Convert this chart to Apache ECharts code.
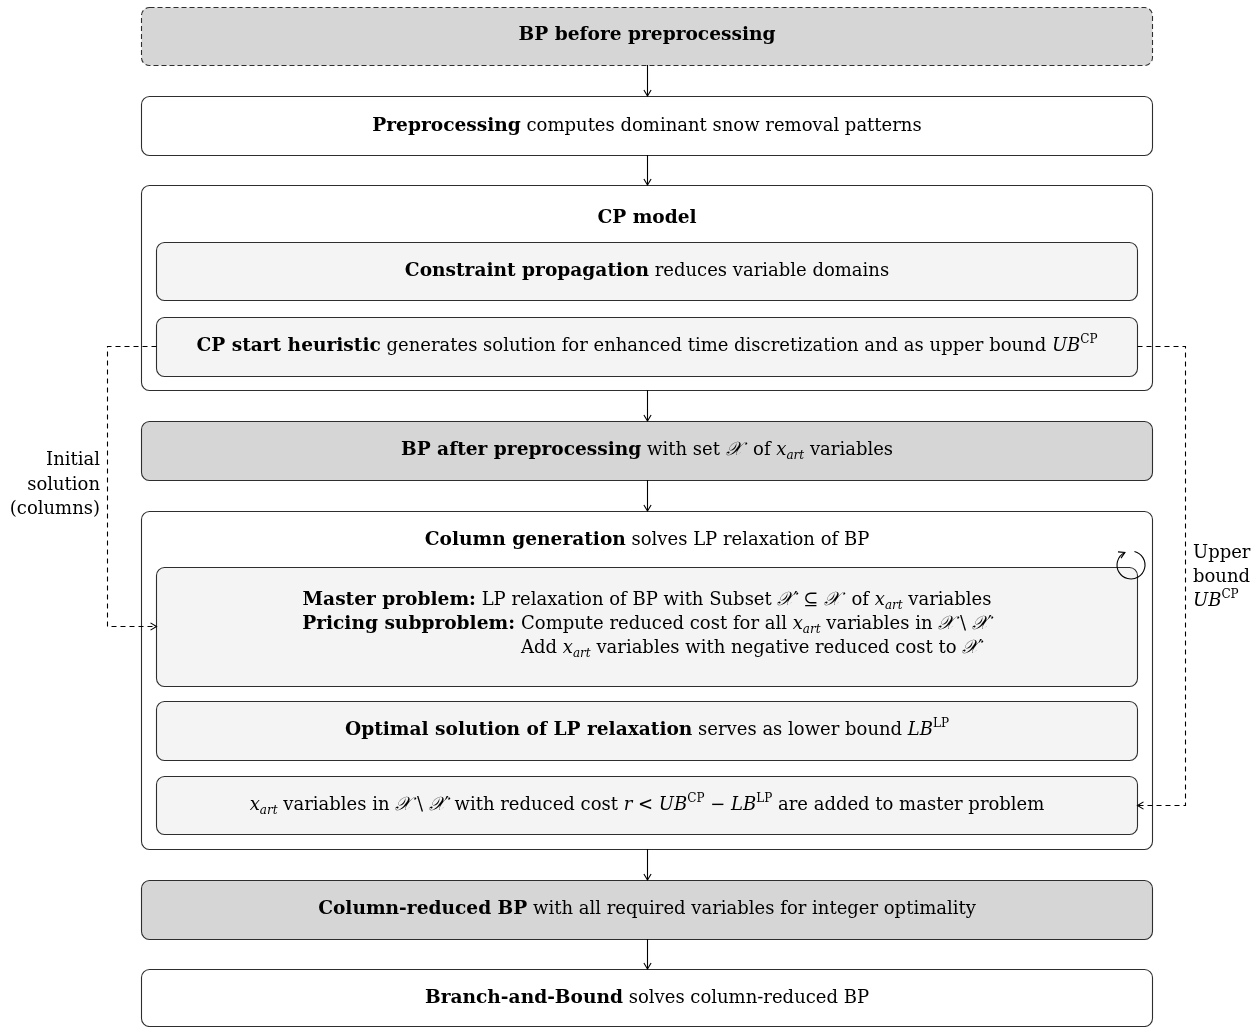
<!DOCTYPE html>
<html><head><meta charset="utf-8">
<script src="https://cdn.jsdelivr.net/npm/echarts@6/dist/echarts.min.js"></script>
<style>html,body{margin:0;padding:0;background:#fff}#c{width:1260px;height:1027px}</style>
</head><body><div id="c"></div>
<script>
const FONT = "'DejaVu Serif', 'Liberation Serif', serif";
const FS = 18;

// ---- diagram nodes (boxes) ----
const nodeNames = ['bpBefore','preproc','cpModel','constrProp','cpStart','bpAfter','colGen','master','optimal','addCols','colReduced','bnb'];
const nodeKind  = ['dashedGray','white','white','light','light','gray','white','light','light','light','gray','white'];
const nodeBox   = [[141,7,1152,65],[141,96,1152,155],[141,185,1152,390],[156,242,1137,300],[156,317,1137,376],
                   [141,421,1152,480],[141,511,1152,849],[156,567,1137,686],[156,701,1137,760],[156,776,1137,834],
                   [141,880,1152,939],[141,969,1152,1026]];

// ---- solid flow arrows: [x, yFrom, yTo] ----
const flowArrows = [[647,65,96],[647,155,185],[647,390,421],[647,480,511],[647,849,880],[647,939,969]];

// ---- dashed feedback connectors ----
const connectors = [
  [[156,346],[107,346],[107,626],[156,626]],
  [[1137,346],[1185,346],[1185,805],[1137,805]]
];

// ---- text segments ----
const B=t=>['b',t], R=t=>['r',t], I=t=>['i',t], SUP=t=>['sup',t], SUB=t=>['sub',t];
const CAL=()=>['cal','𝒳'];
const labels = [
  [B('BP before preprocessing')],
  [B('Preprocessing'),R(' computes dominant snow removal patterns')],
  [B('CP model')],
  [B('Constraint propagation'),R(' reduces variable domains')],
  [B('CP start heuristic'),R(' generates solution for enhanced time discretization and as upper bound '),I('UB'),SUP('CP')],
  [B('BP after preprocessing'),R(' with set '),CAL(),R('  of '),I('x'),SUB('art'),R(' variables')],
  [B('Column generation'),R(' solves LP relaxation of BP')],
  [B('Master problem:'),R(' LP relaxation of BP with Subset '),CAL(),R('′ ⊆ '),CAL(),R('  of '),I('x'),SUB('art'),R(' variables')],
  [B('Pricing subproblem:')],
  [R('Compute reduced cost for all '),I('x'),SUB('art'),R(' variables in '),CAL(),R(' \\ '),CAL(),R('′')],
  [R('Add '),I('x'),SUB('art'),R(' variables with negative reduced cost to '),CAL(),R('′')],
  [B('Optimal solution of LP relaxation'),R(' serves as lower bound '),I('LB'),SUP('LP')],
  [I('x'),SUB('art'),R(' variables in '),CAL(),R(' \\ '),CAL(),R('′ with reduced cost '),I('r'),R(' < '),I('UB'),SUP('CP'),R(' − '),I('LB'),SUP('LP'),R(' are added to master problem')],
  [B('Column-reduced BP'),R(' with all required variables for integer optimality')],
  [B('Branch-and-Bound'),R(' solves column-reduced BP')],
  [R('Initial')],[R('solution')],[R('(columns)')],
  [R('Upper')],[R('bound')],[I('UB'),SUP('CP')]
];

const richStyles = {
  b:  {fontFamily:FONT,fontSize:FS+0.6,fontWeight:'bold',lineHeight:24,color:'#000'},
  r:  {fontFamily:FONT,fontSize:FS,lineHeight:24,color:'#000'},
  i:  {fontFamily:FONT,fontSize:FS,fontStyle:'italic',lineHeight:24,color:'#000'},
  cal:{fontFamily:"'DejaVu Sans','Noto Sans',serif",fontSize:FS+1,fontStyle:'italic',lineHeight:24,color:'#000'},
  sup:{fontFamily:FONT,fontSize:12,lineHeight:14,verticalAlign:'top',color:'#000'},
  sub:{fontFamily:FONT,fontSize:12,fontStyle:'italic',lineHeight:14,verticalAlign:'bottom',color:'#000'}
};

const mctx = document.createElement('canvas').getContext('2d');
function segWidth(segs){
  let w=0;
  segs.forEach(([k,t])=>{
    const s=richStyles[k];
    mctx.font=(s.fontStyle||'normal')+' '+(s.fontWeight||'normal')+' '+s.fontSize+'px '+s.fontFamily;
    w+=mctx.measureText(t).width;
  });
  return w;
}
function toRich(segs){ return segs.map(([k,t])=>'{'+k+'|'+t+'}').join(''); }

// master block layout: line 2/3 share a left edge after the label
const gap = 6;
const wLab = segWidth(labels[8]), wBody2 = segWidth(labels[9]);
const l2start = 647 - (wLab+gap+wBody2)/2;

// text anchors: [x, y, align]
const textAnchor = [
  [647,35,'center'],[647,126,'center'],[647,218,'center'],[647,271,'center'],[647,346,'center'],
  [647,450,'center'],[647,540,'center'],[647,600,'center'],[l2start,624,'left'],[l2start+wLab+gap,624,'left'],
  [l2start+wLab+gap,648,'left'],[647,730,'center'],[647,805,'center'],[647,909,'center'],[647,998,'center'],
  [100,460,'right'],[100,485,'right'],[100,509,'right'],
  [1193,553,'left'],[1193,577,'left'],[1193,601,'left']
];

const chart = echarts.init(document.getElementById('c'), null, {renderer:'canvas'});
const H = 0.5; // half-pixel offset for crisp 1px strokes

function boxRender(params, api){
  const i=params.dataIndex;
  const p0=api.coord([api.value(0),api.value(1)]);
  const p1=api.coord([api.value(2),api.value(3)]);
  const k=nodeKind[i];
  const fill = (k==='gray'||k==='dashedGray')?'#d6d6d6':(k==='light'?'#f4f4f4':'#ffffff');
  return {type:'rect',shape:{x:p0[0]+H,y:p0[1]+H,width:p1[0]-p0[0],height:p1[1]-p0[1],r:8},
    style:{fill:fill,stroke:'#2e2e2e',lineWidth:1.1,lineDash:k==='dashedGray'?[5,3]:null}};
}
function arrowRender(params, api){
  const a=api.coord([api.value(0),api.value(1)]);
  const b=api.coord([api.value(0),api.value(2)]);
  const x=a[0]+H;
  return {type:'group',children:[
    {type:'line',shape:{x1:x,y1:a[1],x2:x,y2:b[1]},style:{stroke:'#000',lineWidth:1.1}},
    {type:'polyline',shape:{points:[[x-3.6,b[1]-6],[x,b[1]],[x+3.6,b[1]-6]]},style:{stroke:'#000',fill:null,lineWidth:1.1}}
  ]};
}
function connRender(params, api){
  const pts=connectors[params.dataIndex].map(p=>{const c=api.coord(p);return [c[0]+H,c[1]+H];});
  const e=pts[pts.length-1], pr=pts[pts.length-2];
  const dir=Math.sign(e[0]-pr[0]);
  return {type:'group',children:[
    {type:'polyline',shape:{points:pts},style:{stroke:'#000',fill:null,lineWidth:1.1,lineDash:[5,4]}},
    {type:'polyline',shape:{points:[[e[0]-dir*6,e[1]-3.6],[e[0],e[1]],[e[0]-dir*6,e[1]+3.6]]},style:{stroke:'#000',fill:null,lineWidth:1.1}}
  ]};
}
function textRender(params, api){
  const i=params.dataIndex;
  const p=api.coord([api.value(0),api.value(1)]);
  return {type:'text',x:p[0],y:p[1],style:{text:toRich(labels[i]),rich:richStyles,align:api.value(2)===0?'center':(api.value(2)===1?'left':'right'),verticalAlign:'middle',fontFamily:FONT,fontSize:FS}};
}
// loop icon at master box corner: [cx, cy, r]
const loopIcon = [[1131,565,14]];
function loopRender(params, api){
  const c=api.coord([api.value(0),api.value(1)]);
  const r=api.value(2);
  const a0=-Math.PI/2+0.25, a1=-Math.PI/2-0.45+2*Math.PI;
  const ex=c[0]+r*Math.cos(a1), ey=c[1]+r*Math.sin(a1);
  const tx=-Math.sin(a1), ty=Math.cos(a1);
  const nx=-ty, ny=tx;
  const L=6, W=3.5;
  return {type:'group',children:[
    {type:'arc',shape:{cx:c[0],cy:c[1],r:r,startAngle:a0,endAngle:a1,clockwise:true},style:{stroke:'#000',fill:null,lineWidth:1.1}},
    {type:'polyline',shape:{points:[[ex-tx*L+nx*W,ey-ty*L+ny*W],[ex,ey],[ex-tx*L-nx*W,ey-ty*L-ny*W]]},style:{stroke:'#000',fill:null,lineWidth:1.1}}
  ]};
}

const alignCode={center:0,left:1,right:2};
chart.setOption({
  animation:false,
  grid:{left:0,top:0,width:1260,height:1027,show:false},
  xAxis:{type:'value',min:0,max:1260,show:false},
  yAxis:{type:'value',min:0,max:1027,inverse:true,show:false},
  series:[
    {type:'custom',renderItem:boxRender,clip:false,data:nodeBox,encode:{x:[0,2],y:[1,3]},z:1},
    {type:'custom',renderItem:arrowRender,clip:false,data:flowArrows,encode:{x:0,y:[1,2]},z:2},
    {type:'custom',renderItem:connRender,clip:false,data:connectors.map((c,i)=>[c[0][0],c[0][1],i]),encode:{x:0,y:1},z:2},
    {type:'custom',renderItem:loopRender,clip:false,data:loopIcon,encode:{x:0,y:1},z:3},
    {type:'custom',renderItem:textRender,clip:false,data:textAnchor.map(t=>[t[0],t[1],alignCode[t[2]]]),encode:{x:0,y:1},z:4}
  ]
});
</script></body></html>
